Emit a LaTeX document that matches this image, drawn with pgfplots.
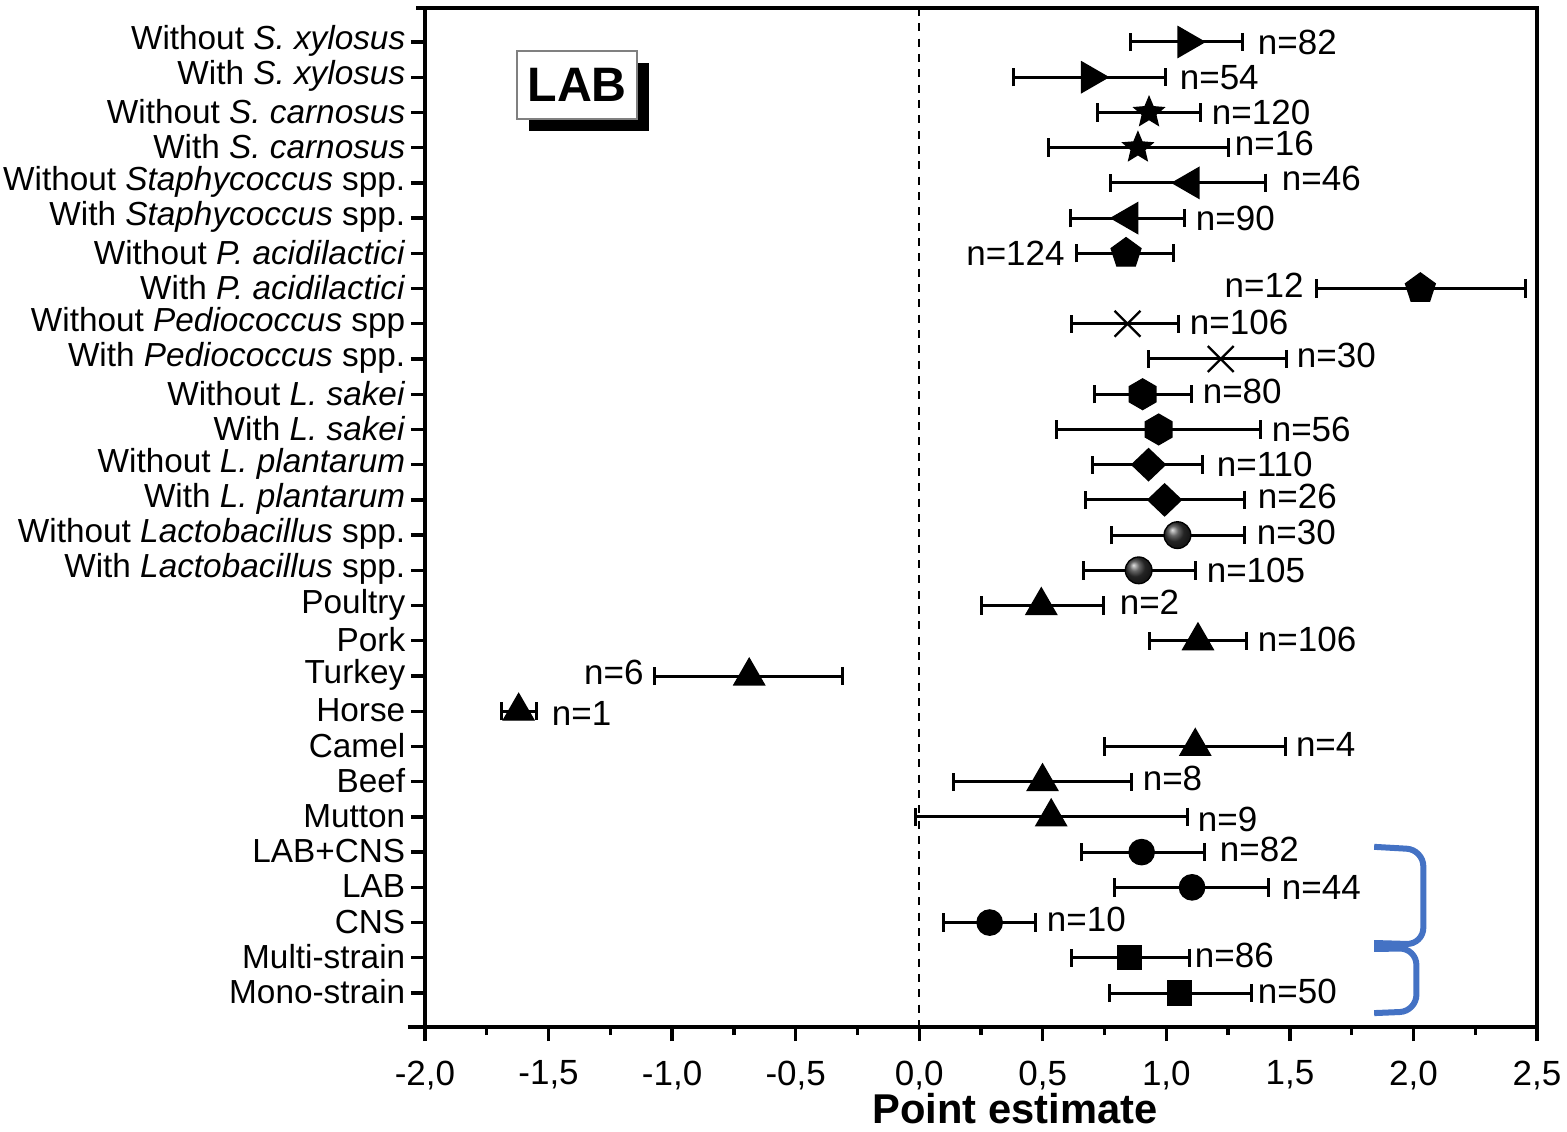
\documentclass[border=0pt]{standalone}
\usepackage{pgfplots}
\pgfplotsset{compat=1.18}
\usepackage{pgfplotstable}
\usepackage{fontspec}
\setmainfont{Liberation Sans}
\usetikzlibrary{plotmarks}
\definecolor{brk}{HTML}{4472C4}

\pgfdeclareplotmark{fstar}{%
  \pgfpathmoveto{\pgfqpointpolar{90}{\pgfplotmarksize}}%
  \pgfpathlineto{\pgfqpointpolar{126}{0.45\pgfplotmarksize}}%
  \pgfpathlineto{\pgfqpointpolar{162}{\pgfplotmarksize}}%
  \pgfpathlineto{\pgfqpointpolar{198}{0.45\pgfplotmarksize}}%
  \pgfpathlineto{\pgfqpointpolar{234}{\pgfplotmarksize}}%
  \pgfpathlineto{\pgfqpointpolar{270}{0.45\pgfplotmarksize}}%
  \pgfpathlineto{\pgfqpointpolar{306}{\pgfplotmarksize}}%
  \pgfpathlineto{\pgfqpointpolar{342}{0.45\pgfplotmarksize}}%
  \pgfpathlineto{\pgfqpointpolar{18}{\pgfplotmarksize}}%
  \pgfpathlineto{\pgfqpointpolar{54}{0.45\pgfplotmarksize}}%
  \pgfpathclose\pgfusepathqfillstroke}
\pgfdeclareplotmark{fhex}{%
  \pgfpathmoveto{\pgfqpointpolar{90}{\pgfplotmarksize}}%
  \pgfpathlineto{\pgfqpointpolar{150}{\pgfplotmarksize}}%
  \pgfpathlineto{\pgfqpointpolar{210}{\pgfplotmarksize}}%
  \pgfpathlineto{\pgfqpointpolar{270}{\pgfplotmarksize}}%
  \pgfpathlineto{\pgfqpointpolar{330}{\pgfplotmarksize}}%
  \pgfpathlineto{\pgfqpointpolar{30}{\pgfplotmarksize}}%
  \pgfpathclose\pgfusepathqfillstroke}

% row  estimate  lower  upper
\pgfplotstableread{
row est lo hi
1 1.083 0.856 1.309
2 0.693 0.383 0.996
}\tRight
\pgfplotstableread{
row est lo hi
3 0.930 0.722 1.139
4 0.885 0.522 1.250
}\tStar
\pgfplotstableread{
row est lo hi
5 1.096 0.772 1.402
6 0.848 0.611 1.074
}\tLeft
\pgfplotstableread{
row est lo hi
7 0.837 0.635 1.028
8 2.028 1.606 2.454
}\tPent
\pgfplotstableread{
row est lo hi
9 0.843 0.617 1.050
10 1.220 0.926 1.485
}\tX
\pgfplotstableread{
row est lo hi
11 0.904 0.710 1.100
12 0.969 0.555 1.380
}\tHex
\pgfplotstableread{
row est lo hi
13 0.928 0.703 1.147
14 0.993 0.671 1.317
}\tDiam
\pgfplotstableread{
row est lo hi
15 1.045 0.780 1.317
16 0.888 0.666 1.117
}\tBall
\pgfplotstableread{
row est lo hi
17 0.494 0.250 0.747
18 1.128 0.932 1.326
19 -0.688 -1.070 -0.310
20 -1.621 -1.689 -1.549
21 1.117 0.749 1.483
22 0.499 0.139 0.860
23 0.534 -0.015 1.085
}\tTri
\pgfplotstableread{
row est lo hi
24 0.900 0.656 1.155
25 1.104 0.790 1.414
26 0.285 0.100 0.471
}\tCirc
\pgfplotstableread{
row est lo hi
27 0.851 0.618 1.095
28 1.054 0.771 1.345
}\tSq

\pgfplotsset{
  fp/.style={only marks, black, mark options={solid, fill=black},
    error bars/x dir=both, error bars/x explicit,
    error bars/error bar style={line width=0.9pt, black},
    error bars/error mark=|,
    error bars/error mark options={black, solid, mark size=2.75pt, line width=0.9pt}},
}
\pgfkeys{/pgfplots/table/tabopts/.style={x=est, y=row,
  x error plus expr=\thisrow{hi}-\thisrow{est},
  x error minus expr=\thisrow{est}-\thisrow{lo}}}
\newcommand\nfont{\fontsize{10.5}{12}\selectfont}
\newcommand\nW[3]{\node[anchor=west, inner sep=0pt, font=\nfont] at (axis cs:#1,#2) {#3};}
\newcommand\nE[3]{\node[anchor=east, inner sep=0pt, font=\nfont] at (axis cs:#1,#2) {#3};}

\begin{document}
\begin{tikzpicture}
\begin{axis}[
  name=ax,
  scale only axis, width=333.6pt, height=305.7pt,
  xmin=-2, xmax=2.5, ymin=0.035, ymax=28.965, y dir=reverse,
  clip=false,
  axis line style={line width=1.1pt},
  every tick/.style={black, line width=1pt},
  tick align=outside,
  xtick={-2,-1.5,-1,-0.5,0,0.5,1,1.5,2,2.5},
  minor x tick num=1,
  major tick length=4.2pt, minor tick length=2.4pt,
  xtick pos=bottom, ytick pos=left,
  ytick={1,...,28},
  yticklabels={
    Without \textit{S. xylosus},
    With \textit{S. xylosus},
    Without \textit{S. carnosus},
    With \textit{S. carnosus},
    Without \textit{Staphycoccus} spp.,
    With \textit{Staphycoccus} spp.,
    Without \textit{P. acidilactici},
    With \textit{P. acidilactici},
    Without \textit{Pediococcus} spp,
    With \textit{Pediococcus} spp.,
    Without \textit{L. sakei},
    With \textit{L. sakei},
    Without \textit{L. plantarum},
    With \textit{L. plantarum},
    Without \textit{Lactobacillus} spp.,
    With \textit{Lactobacillus} spp.,
    Poultry, Pork, Turkey, Horse, Camel, Beef, Mutton,
    LAB+CNS, LAB, CNS, Multi-strain, Mono-strain},
  y tick label style={font=\fontsize{10}{11}\selectfont, yshift=0.3pt, xshift=1.8pt},
  x tick label style={font=\fontsize{10.5}{12}\selectfont, yshift=-2.4pt,
    /pgf/number format/.cd, fixed, fixed zerofill, precision=1, use comma, assume math mode=true},
  xlabel={Point estimate},
  xlabel style={font=\fontsize{12.5}{14}\selectfont\bfseries, at={(axis description cs:0.5306,0)}, anchor=north, yshift=-16.5pt},
]
\draw[black, line width=0.6pt, dash pattern=on 2.4pt off 2.2pt] (axis cs:0,0.035) -- (axis cs:0,28.965);
\draw[line width=1.1pt] (axis cs:-2.07,28.965) -- (axis cs:-2,28.965);
\draw[line width=1.1pt] (axis cs:-2.035,0.035) -- (axis cs:-2,0.035);

\addplot[fp, mark=triangle*, mark size=5.3pt, mark options={rotate=-90}] table[tabopts] {\tRight};
\addplot[fp, mark=fstar, mark size=4.7pt] table[tabopts] {\tStar};
\addplot[fp, mark=triangle*, mark size=5.3pt, mark options={rotate=90}] table[tabopts] {\tLeft};
\addplot[fp, mark=pentagon*, mark size=4.7pt] table[tabopts] {\tPent};
\addplot[fp, mark=x, mark size=5.5pt, mark options={line width=0.7pt}] table[tabopts] {\tX};
\addplot[fp, mark=fhex, mark size=4.6pt] table[tabopts] {\tHex};
\addplot[fp, mark=diamond*, mark size=4.8pt, mark options={xscale=1.4}] table[tabopts] {\tDiam};
\addplot[fp, mark=ball, mark size=4pt, mark options={ball color=black!80}] table[tabopts] {\tBall};
\addplot[fp, mark=triangle*, mark size=5.3pt] table[tabopts] {\tTri};
\addplot[fp, mark=*, mark size=3.8pt] table[tabopts] {\tCirc};
\addplot[fp, mark=square*, mark size=3.6pt] table[tabopts] {\tSq};

\nW{1.368}{1}{n=82}
\nW{1.052}{2}{n=54}
\nW{1.182}{3}{n=120}
\nW{1.275}{3.88}{n=16}
\nW{1.465}{4.88}{n=46}
\nW{1.117}{6}{n=90}
\nE{0.591}{7}{n=124}
\nE{1.558}{7.9}{n=12}
\nW{1.093}{8.95}{n=106}
\nW{1.526}{9.9}{n=30}
\nW{1.145}{10.93}{n=80}
\nW{1.424}{12}{n=56}
\nW{1.202}{13}{n=110}
\nW{1.368}{13.9}{n=26}
\nW{1.364}{14.92}{n=30}
\nW{1.161}{16}{n=105}
\nW{0.809}{16.92}{n=2}
\nW{1.368}{17.95}{n=106}
\nE{-1.113}{18.9}{n=6}
\nW{-1.489}{20.05}{n=1}
\nW{1.522}{20.95}{n=4}
\nW{0.902}{21.9}{n=8}
\nW{1.125}{23.06}{n=9}
\nW{1.214}{23.93}{n=82}
\nW{1.465}{25}{n=44}
\nW{0.514}{25.92}{n=10}
\nW{1.113}{26.93}{n=86}
\nW{1.368}{27.95}{n=50}

\fill[black] ([shift={(3.6pt,-3.6pt)}]axis cs:-1.627,1.256) rectangle ([shift={(3.6pt,-3.6pt)}]axis cs:-1.141,3.186);
\draw[gray, line width=0.6pt, fill=white] (axis cs:-1.627,1.256) rectangle (axis cs:-1.141,3.186);
\node[font=\fontsize{14.5}{16}\selectfont\bfseries] at (axis cs:-1.384,2.22) {LAB};

\draw[brk, line width=1.8pt, rounded corners=5pt] (axis cs:1.841,23.85) -- (axis cs:2.04,23.93) -- (axis cs:2.04,26.62) -- (axis cs:1.841,26.58);
\draw[brk, line width=1.8pt, rounded corners=5pt] (axis cs:1.841,26.75) -- (axis cs:2.012,26.73) -- (axis cs:2.012,28.52) -- (axis cs:1.841,28.57);
\end{axis}
\pgfresetboundingbox
\path[use as bounding box] ([shift={(-127.5pt,-31.2pt)}]ax.south west) rectangle ([shift={(9pt,2.4pt)}]ax.north east);
\end{tikzpicture}
\end{document}
